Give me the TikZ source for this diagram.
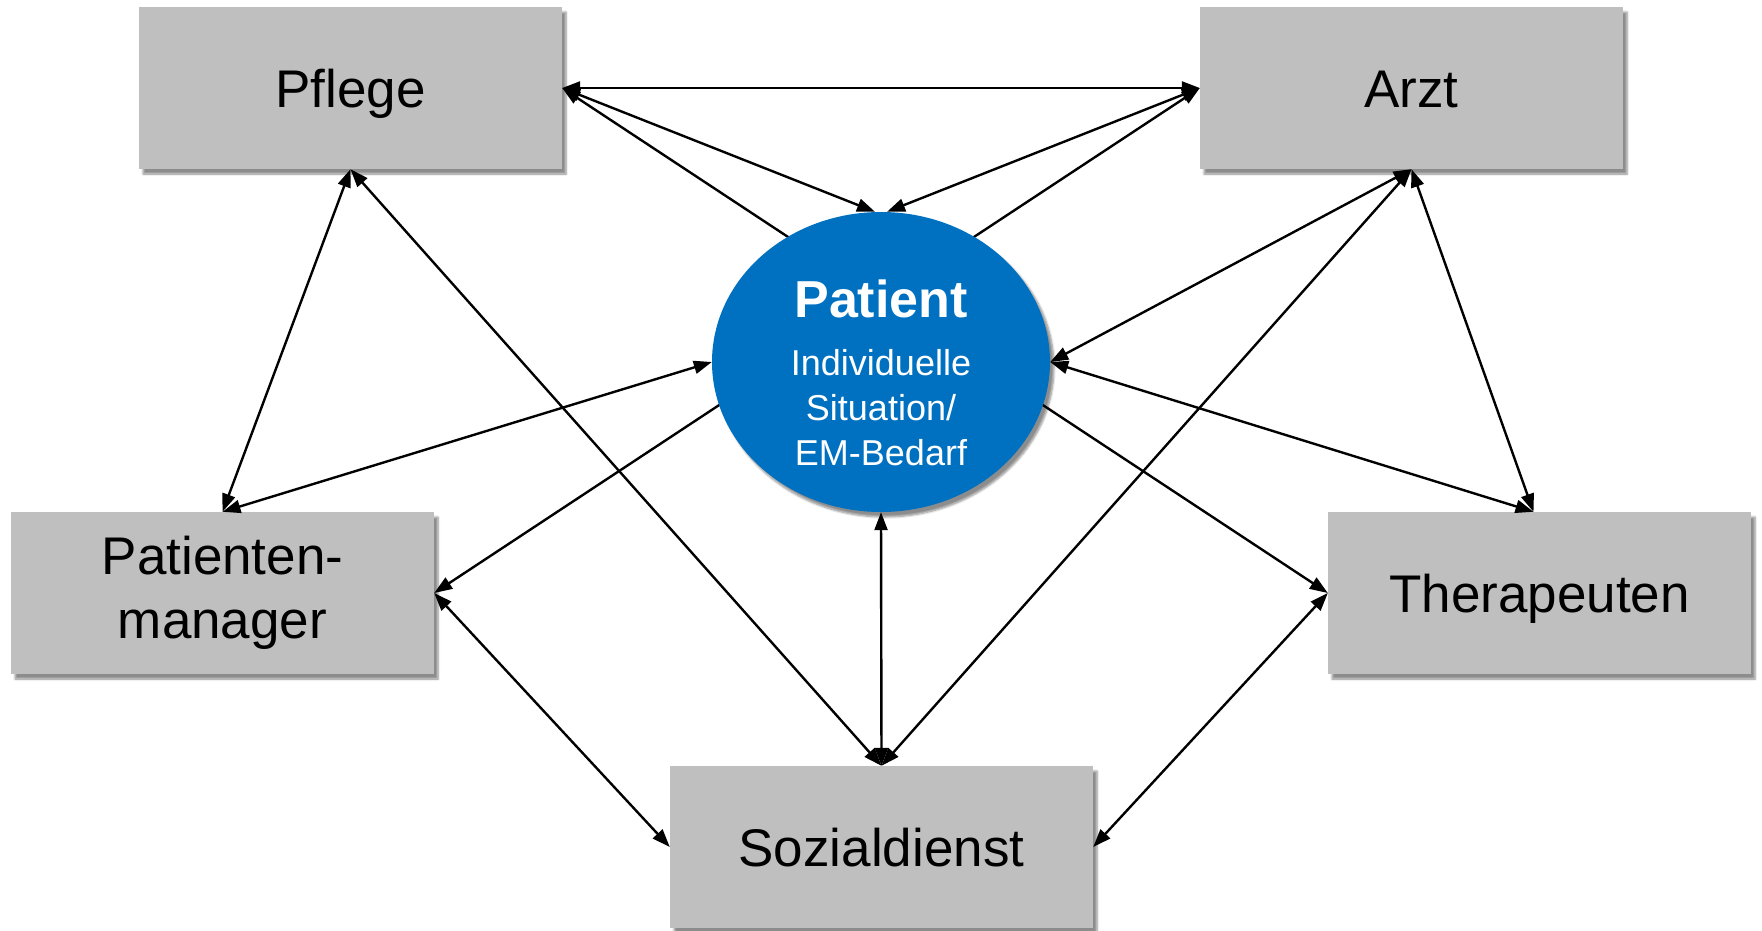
\documentclass[tikz,border=0pt]{standalone}
\usepackage{fontspec}
\setmainfont{Liberation Sans}
\usetikzlibrary{shapes.geometric,shadows.blur,arrows.meta}
\definecolor{boxgray}{HTML}{BFBFBF}
\definecolor{ptblue}{HTML}{0070C0}
\begin{document}
\begin{tikzpicture}[x=1pt,y=-1pt,
  box/.style={rectangle, fill=boxgray, minimum width=423pt, minimum height=162pt,
    inner sep=0pt, align=center, font=\fontsize{53}{64}\selectfont,
    blur shadow={shadow xshift=4pt, shadow yshift=-5pt, shadow blur steps=6, shadow opacity=45}},
  onebox/.style={box, text height=38pt, text depth=0pt},
  link/.style={line width=2.4pt, {Triangle[length=18pt,width=13pt]}-{Triangle[length=18pt,width=13pt]}},
  ]
\useasboundingbox (0,0) rectangle (1762,930);
% boxes
\node[onebox] (pflege) at (350.5,88) {Pflege};
\node[onebox] (arzt) at (1411.5,88) {Arzt};
\node[box] (pm) at (222.5,593) {Patienten-\\manager};
\node[onebox] (ther) at (1539.5,593) {Therapeuten};
\node[onebox] (sozial) at (881.5,847) {Sozialdienst};
% connectors passing behind the patient ellipse
\draw[link] (pflege.east) -- (ther.west);
\draw[link] (arzt.west) -- (pm.east);
% patient
\node[ellipse, fill=ptblue, minimum width=338pt, minimum height=300pt, inner sep=0pt,
  blur shadow={shadow xshift=4pt, shadow yshift=-5pt, shadow blur steps=6, shadow opacity=45}] (pat) at (881,362) {};
\node[font=\bfseries\fontsize{52}{60}\selectfont, text=white, inner sep=0pt] (ptitle) at (881,299) {Patient};
\node[font=\fontsize{36}{45}\selectfont, text=white, align=center, inner sep=0pt] (psub) at (881,408) {Individuelle\\Situation/\\EM-Bedarf};
% other connectors
\draw[link] (pflege.east) -- (arzt.west);
\draw[link] (pflege.east) -- ([xshift=-6pt]pat.north);
\draw[link] (arzt.west) -- ([xshift=6pt]pat.north);
\draw[link] (arzt.south) -- (pat.east);
\draw[link] (arzt.south) -- (sozial.north);
\draw[link] (arzt.south) -- ([xshift=-6pt]ther.north);
\draw[link] (pflege.south) -- (pm.north);
\draw[link] (pflege.south) -- (sozial.north);
\draw[link] (pm.north) -- (pat.west);
\draw[link] ([xshift=-6pt]ther.north) -- (pat.east);
\draw[link] (pat.south) -- (sozial.north);
\draw[link] (pm.east) -- (sozial.west);
\draw[link] (ther.west) -- (sozial.east);
\end{tikzpicture}
\end{document}
